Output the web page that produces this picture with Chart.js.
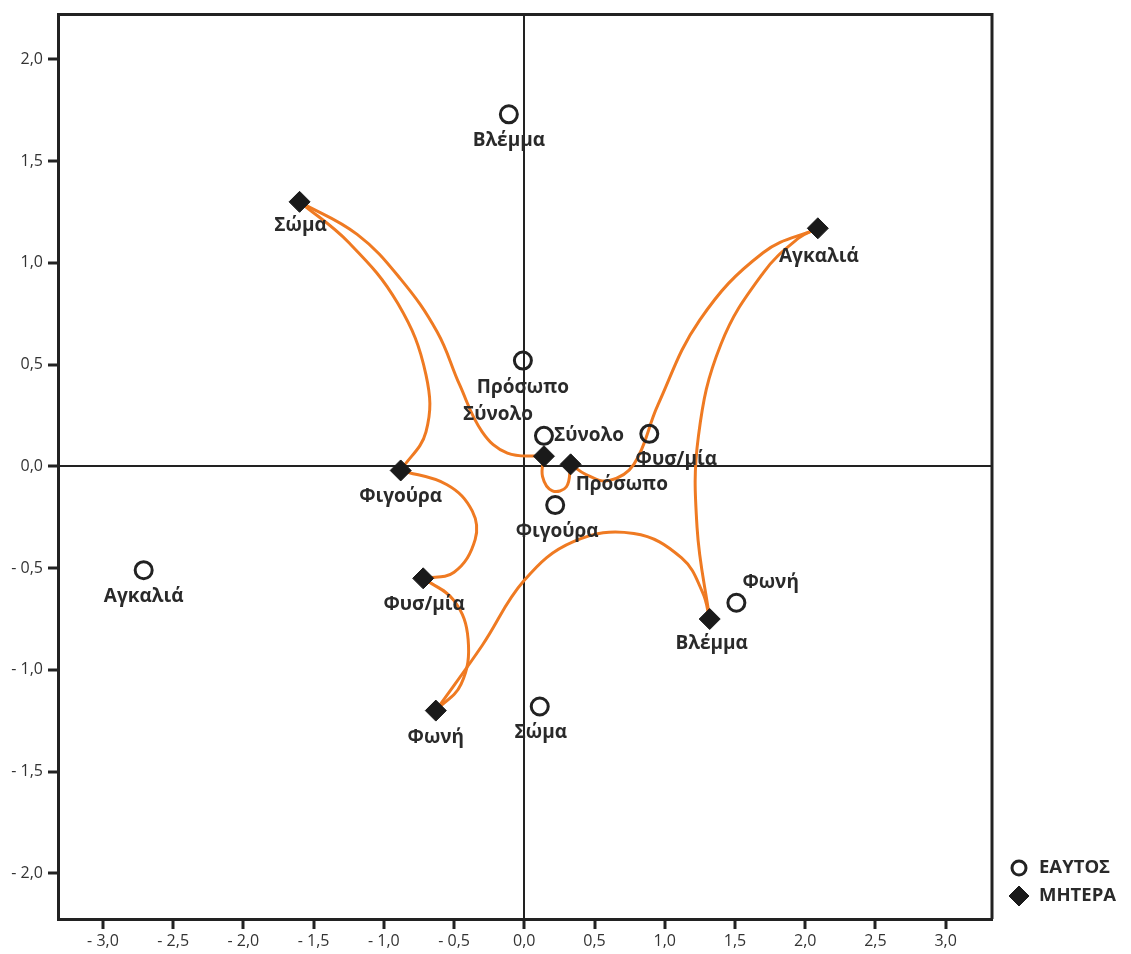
<!DOCTYPE html>
<html>
<head>
<meta charset="utf-8">
<script src="https://cdn.jsdelivr.net/npm/chart.js@4.4.0/dist/chart.umd.min.js"></script>
<style>
  html, body { margin: 0; padding: 0; background: #fff; }
  #wrap { width: 1131px; height: 954px; }
</style>
</head>
<body>
<div id="wrap"><canvas id="myChart" width="1131" height="954"></canvas></div>
<script>
// categories shared by both series
const categories = ["Σύνολο", "Πρόσωπο", "Φιγούρα", "Σώμα", "Βλέμμα", "Φωνή", "Αγκαλιά", "Φυσ/μία"];

// ΕΑΥΤΟΣ (open circles)
const selfX = [0.14, -0.01, 0.22, 0.11, -0.11, 1.51, -2.71, 0.89];
const selfY = [0.15, 0.52, -0.19, -1.18, 1.73, -0.67, -0.51, 0.16];

// ΜΗΤΕΡΑ (filled diamonds)
const motherX = [0.14, 0.33, -0.88, -1.60, 1.32, -0.63, 2.09, -0.72];
const motherY = [0.05, 0.01, -0.02, 1.30, -0.75, -1.20, 1.17, -0.55];

// tick labels
const xTickValues = [-3.0, -2.5, -2.0, -1.5, -1.0, -0.5, 0.0, 0.5, 1.0, 1.5, 2.0, 2.5, 3.0];
const yTickValues = [-2.0, -1.5, -1.0, -0.5, 0.0, 0.5, 1.0, 1.5, 2.0];

// orange curves joining the ΜΗΤΕΡΑ points (waypoints in data units)
const curveSomaSynolo = [[-1.19, 1.14], [-0.88, 0.92], [-0.62, 0.66], [-0.46, 0.40], [-0.30, 0.17], [-0.12, 0.065]];
const curveSomaFigoura = [[-1.25, 1.10], [-0.90, 0.80], [-0.70, 0.45], [-0.70, 0.17]];
const curveFigouraFysmia = [[-0.55, -0.09], [-0.37, -0.22], [-0.35, -0.36], [-0.50, -0.52]];
const curveFysmiaFoni = [[-0.50, -0.66], [-0.40, -0.85], [-0.45, -1.07]];
const curveFoniVlemma = [[-0.30, -0.88], [0.00, -0.56], [0.35, -0.37], [0.78, -0.33], [1.12, -0.45], [1.27, -0.62]];
const curveVlemmaAgkalia = [[1.23, -0.30], [1.24, 0.15], [1.40, 0.60], [1.70, 0.95], [1.95, 1.12]];
const curveAgkaliaProsopo = [[1.70, 1.05], [1.25, 0.72], [0.95, 0.30], [0.78, 0.01], [0.60, -0.07], [0.44, -0.04]];
const curveProsopoSynolo = [[0.30, -0.10], [0.20, -0.12], [0.13, -0.05]];

const curveList = [
  ["Σώμα", "Σύνολο", curveSomaSynolo],
  ["Σώμα", "Φιγούρα", curveSomaFigoura],
  ["Φιγούρα", "Φυσ/μία", curveFigouraFysmia],
  ["Φυσ/μία", "Φωνή", curveFysmiaFoni],
  ["Φωνή", "Βλέμμα", curveFoniVlemma],
  ["Βλέμμα", "Αγκαλιά", curveVlemmaAgkalia],
  ["Αγκαλιά", "Πρόσωπο", curveAgkaliaProsopo],
  ["Πρόσωπο", "Σύνολο", curveProsopoSynolo],
];

// label placement (pixels from the marker): dx, dy, align
const selfLabelPos = [[10, 0, "left"], [0, 27, "center"], [2, 27, "center"], [1, 26, "center"], [0, 26, "center"], [6, -20, "left"], [0, 26, "center"], [27, 26, "center"]];
const motherLabelPos = [[-11, -42, "right"], [5, 20, "left"], [0, 26, "center"], [1, 24, "center"], [2, 25, "center"], [0, 27, "center"], [1, 28, "center"], [1, 26, "center"]];

const ORANGE = "#ef7a22";
const INK = "#222222";

function fmtTick(v) {
  const s = Math.abs(v).toFixed(1).replace(".", ",");
  return v < -1e-9 ? "- " + s : s;
}

function motherPoint(name) {
  const i = categories.indexOf(name);
  return { x: motherX[i], y: motherY[i] };
}

const curveDatasets = curveList.map(([a, b, via]) => ({
  label: a + "-" + b,
  data: [motherPoint(a), ...via.map(p => ({ x: p[0], y: p[1] })), motherPoint(b)],
  showLine: true,
  borderColor: ORANGE,
  borderWidth: 3,
  tension: 0.4,
  pointRadius: 0,
  order: 3,
}));

const selfData = categories.map((c, i) => ({ x: selfX[i], y: selfY[i] }));
const motherData = categories.map((c, i) => ({ x: motherX[i], y: motherY[i] }));

// frame, point labels and legend
const extras = {
  id: "extras",
  afterDatasetsDraw(chart) {
    const ctx = chart.ctx;
    const xs = chart.scales.x, ys = chart.scales.y;
    ctx.save();
    ctx.font = "bold 19px 'Open Sans'";
    ctx.fillStyle = "#2a2a2a";
    ctx.textBaseline = "middle";
    const put = (xa, ya, pos) => {
      categories.forEach((c, i) => {
        const px = xs.getPixelForValue(xa[i]);
        const py = ys.getPixelForValue(ya[i]);
        ctx.textAlign = pos[i][2];
        ctx.fillText(c, px + pos[i][0], py + pos[i][1]);
      });
    };
    put(selfX, selfY, selfLabelPos);
    put(motherX, motherY, motherLabelPos);
    ctx.restore();
  },
  afterDraw(chart) {
    const ctx = chart.ctx;
    const a = chart.chartArea;
    ctx.save();
    ctx.strokeStyle = INK;
    ctx.lineWidth = 3;
    ctx.beginPath();
    ctx.moveTo(a.left, a.top);
    ctx.lineTo(a.right, a.top);
    ctx.lineTo(a.right, a.bottom);
    ctx.stroke();

    // legend
    const lx = 1019;
    ctx.fillStyle = "rgba(0,0,0,0)";
    ctx.strokeStyle = INK;
    ctx.lineWidth = 3;
    Chart.helpers.drawPoint(ctx, { pointStyle: "circle", radius: 7, borderWidth: 3 }, lx, 868);
    ctx.fillStyle = "#1a1a1a";
    ctx.strokeStyle = "#1a1a1a";
    ctx.lineWidth = 1;
    Chart.helpers.drawPoint(ctx, { pointStyle: "rectRot", radius: 10, borderWidth: 1 }, lx, 896);
    ctx.font = "bold 18.5px 'Open Sans'";
    ctx.fillStyle = "#2a2a2a";
    ctx.textAlign = "left";
    ctx.textBaseline = "middle";
    ctx.fillText("ΕΑΥΤΟΣ", 1039, 868);
    ctx.fillText("ΜΗΤΕΡΑ", 1039, 896);
    ctx.restore();
  },
};

const zeroGrid = {
  color: (c) => (c.tick && Math.abs(c.tick.value) < 1e-9 ? INK : "rgba(0,0,0,0)"),
  lineWidth: 2,
  tickColor: INK,
  tickWidth: 3,
  tickLength: 10,
};

const ctx1 = document.getElementById("myChart").getContext("2d");
const myChart = new Chart(ctx1, {
  type: "scatter",
  data: {
    datasets: [
      {
        label: "ΕΑΥΤΟΣ",
        data: selfData,
        pointStyle: "circle",
        pointRadius: 8.5,
        pointBorderWidth: 3,
        pointBorderColor: INK,
        pointBackgroundColor: "rgba(0,0,0,0)",
        order: 1,
      },
      {
        label: "ΜΗΤΕΡΑ",
        data: motherData,
        pointStyle: "rectRot",
        pointRadius: 10.5,
        pointBorderWidth: 1,
        pointBorderColor: "#1a1a1a",
        pointBackgroundColor: "#1a1a1a",
        order: 2,
      },
      ...curveDatasets,
    ],
  },
  options: {
    responsive: false,
    animation: false,
    devicePixelRatio: 1,
    events: [],
    layout: { padding: { top: 12, right: 139, left: 0, bottom: 0 } },
    scales: {
      x: {
        type: "linear",
        min: -3.32,
        max: 3.33,
        afterBuildTicks: (s) => { s.ticks = xTickValues.map(v => ({ value: v })); },
        afterFit: (s) => { s.height = 35; },
        grid: zeroGrid,
        border: { display: true, color: INK, width: 3 },
        ticks: {
          color: "#333",
          padding: 3,
          maxRotation: 0,
          autoSkip: false,
          font: { family: "'Open Sans'", size: 16 },
          callback: (v) => fmtTick(v),
        },
      },
      y: {
        type: "linear",
        min: -2.224,
        max: 2.22,
        afterBuildTicks: (s) => { s.ticks = yTickValues.map(v => ({ value: v })); },
        afterFit: (s) => { s.width = 58; },
        grid: zeroGrid,
        border: { display: true, color: INK, width: 3 },
        ticks: {
          color: "#333",
          padding: 5,
          autoSkip: false,
          font: { family: "'Open Sans'", size: 16 },
          callback: (v) => fmtTick(v),
        },
      },
    },
    plugins: {
      legend: { display: false },
      tooltip: { enabled: false },
    },
  },
  plugins: [extras],
});
</script>
</body>
</html>
